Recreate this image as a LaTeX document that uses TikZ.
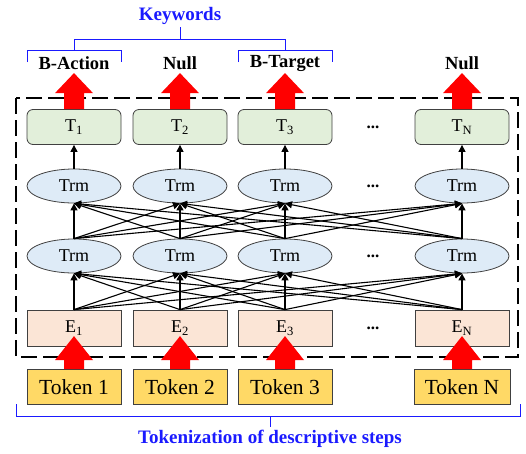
\documentclass[tikz,border=0pt]{standalone}
\usepackage{fontspec}
\setmainfont{Liberation Serif}
\usetikzlibrary{arrows.meta,shapes.geometric,calc}
\definecolor{tgreen}{HTML}{E2EFDA}
\definecolor{tblue}{HTML}{DEEBF7}
\definecolor{epeach}{HTML}{FBE5D6}
\definecolor{tokgold}{HTML}{FFD966}
\definecolor{kwblue}{HTML}{1A1AFF}
\definecolor{edgegray}{HTML}{404040}
\tikzset{
  tbox/.style={draw=edgegray,line width=0.8pt,fill=tgreen,rounded corners=6pt,minimum width=94pt,minimum height=35pt,inner sep=0pt,font=\fontsize{18}{20}\selectfont},
  trm/.style={draw=edgegray,line width=0.8pt,fill=tblue,ellipse,minimum width=94pt,minimum height=34pt,inner sep=0pt,font=\fontsize{18}{20}\selectfont},
  ebox/.style={draw=edgegray,line width=0.8pt,fill=epeach,minimum width=94pt,minimum height=36pt,inner sep=0pt,font=\fontsize{18}{20}\selectfont},
  tokbox/.style={draw=edgegray,line width=0.8pt,fill=tokgold,minimum width=94pt,minimum height=35pt,inner sep=0pt,font=\fontsize{21.5}{24}\selectfont},
  dotsnode/.style={font=\fontsize{17}{19}\selectfont\bfseries,inner sep=0pt},
  outlab/.style={font=\fontsize{18.5}{21}\selectfont\bfseries,inner sep=0pt},
  kwlab/.style={font=\fontsize{19}{22}\selectfont\bfseries,text=kwblue,inner sep=0pt},
  conn/.style={line width=1.1pt,-{Triangle[length=7pt,width=7pt]}},
  bracket/.style={draw=kwblue,line width=1pt},
  frame/.style={line width=1.7pt,dash pattern=on 16pt off 6pt},
  fat/.style={fill=red,draw=none}
}
\begin{document}
\begin{tikzpicture}[x=1pt,y=-1pt]
\useasboundingbox (0,0) rectangle (526,453);

% columns
\foreach \i/\x/\s in {1/74/1,2/180/2,3/285/3,4/462/N}{
  \node[tbox] (T\i) at (\x,127) {T\textsubscript{\s}};
  \node[trm]  (U\i) at (\x,186) {Trm};
  \node[trm]  (L\i) at (\x,256) {Trm};
  \node[ebox] (E\i) at (\x,328) {E\textsubscript{\s}};
}
\node[tokbox] (K1) at (74,387) {Token 1};
\node[tokbox] (K2) at (180,387) {Token 2};
\node[tokbox] (K3) at (285,387) {Token 3};
\node[tokbox,minimum width=96pt] (K4) at (462,387) {Token N};

% dots
\node[dotsnode] (d1) at (373,127) {...};
\node[dotsnode] (d2) at (373,186) {...};
\node[dotsnode] (d3) at (373,256) {...};
\node[dotsnode] (d4) at (373,328) {...};

% connectors
\foreach \i in {1,...,4}{
  \foreach \j in {1,...,4}{
    \draw[conn] (E\i.north) -- (L\j.south);
    \draw[conn] (L\i.north) -- (U\j.south);
  }
  \draw[conn] (U\i.north) -- (T\i.south);
}

% dashed frame
\draw[frame] (16,98) rectangle (518,357);

% output labels
\node[outlab] (o1) at (74,63) {B-Action};
\node[outlab] (o2) at (180,63) {Null};
\node[outlab] (o3) at (285,63) {B-Target};
\node[outlab] (o4) at (462,63) {Null};
\node[kwlab] (kw) at (180,16) {Keywords};
\node[kwlab] (tk) at (270,439) {Tokenization of descriptive steps};

% brackets
\draw[bracket] (180,27) -- (180,39);
\draw[bracket] (74,50) -- (74,39) -- (285,39) -- (285,50);
\draw[bracket] (27,62) -- (27,50) -- (121,50) -- (121,62);
\draw[bracket] (238,62) -- (238,50) -- (332,50) -- (332,62);
\draw[bracket] (16,404) -- (16,416) -- (520,416) -- (520,404);
\draw[bracket] (270,416) -- (270,427);

% fat red arrows
\foreach \i in {1,...,4}{
  \fill[fat] ([xshift=-10pt]T\i.north) -- ++(0,-16) -- ++(-9,0) -- ++(19,-20) -- ++(19,20) -- ++(-9,0) -- ++(0,16) -- cycle;
  \fill[fat] ([xshift=-10pt]K\i.north) -- ++(0,-9) -- ++(-9,0) -- ++(19,-24) -- ++(19,24) -- ++(-9,0) -- ++(0,9) -- cycle;
}
\end{tikzpicture}
\end{document}
